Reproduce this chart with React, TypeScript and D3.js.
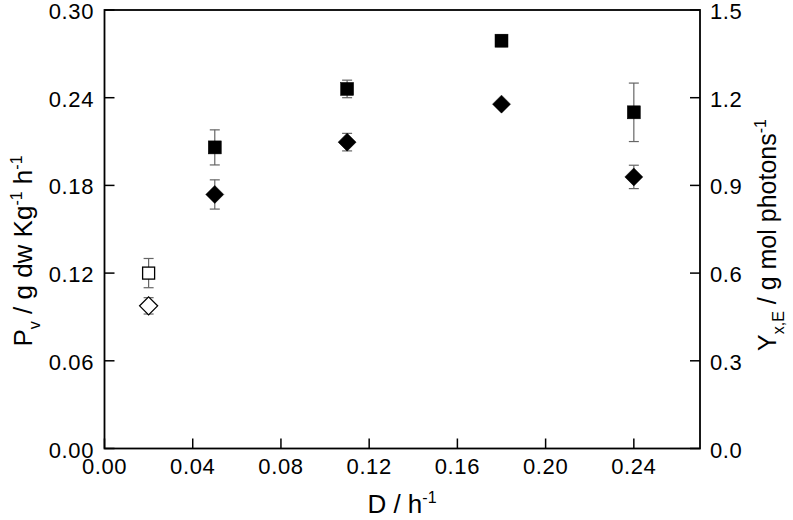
import React from "react";
import * as d3 from "d3";

const dilution = [0.02, 0.05, 0.11, 0.18, 0.24];
const openMarker = [true, false, false, false, false];
const pvValues = [0.12, 0.206, 0.246, 0.279, 0.23];
const pvErrors = [0.01, 0.012, 0.006, 0.004, 0.02];
const yieldValues = [0.488, 0.869, 1.048, 1.178, 0.929];
const yieldErrors = [0.028, 0.05, 0.03, 0.01, 0.04];
const xTicks = [0, 0.04, 0.08, 0.12, 0.16, 0.2, 0.24];
const leftTicks = [0, 0.06, 0.12, 0.18, 0.24, 0.3];
const rightTicks = [0, 0.3, 0.6, 0.9, 1.2, 1.5];

const W = 793;
const H = 520;
const L = 104.5;
const R = 700;
const T = 10;
const B = 448.5;

export default function App() {
  const x = d3.scaleLinear().domain([0, 0.27]).range([L, R]);
  const yL = d3.scaleLinear().domain([0, 0.3]).range([B, T]);
  const yR = d3.scaleLinear().domain([0, 1.5]).range([B, T]);
  const font = "Liberation Sans, Arial, sans-serif";
  const tickLen = 10;
  const cap = 5;
  const errColor = "#666";

  return (
    <svg width={W} height={H} style={{ position: "absolute", left: 0, top: 0 }} fontFamily={font}>
      <rect width={W} height={H} fill="#fff" />
      {xTicks.map((t) => (
        <g key={"x" + t}>
          <line x1={x(t)} x2={x(t)} y1={B} y2={B - tickLen} stroke="#000" strokeWidth={1.5} />
          <text x={x(t)} y={474} fontSize={22} textAnchor="middle" letterSpacing={0.6}>
            {d3.format(".2f")(t)}
          </text>
        </g>
      ))}
      {leftTicks.map((t) => (
        <g key={"l" + t}>
          <line x1={L} x2={L + tickLen} y1={yL(t)} y2={yL(t)} stroke="#000" strokeWidth={1.5} />
          <text x={94} y={yL(t) + 9} fontSize={22} textAnchor="end" letterSpacing={0.6}>
            {d3.format(".2f")(t)}
          </text>
        </g>
      ))}
      {rightTicks.map((t) => (
        <g key={"r" + t}>
          <line x1={R} x2={R - tickLen} y1={yR(t)} y2={yR(t)} stroke="#000" strokeWidth={1.5} />
          <text x={710} y={yR(t) + 9} fontSize={22} textAnchor="start" letterSpacing={0.6}>
            {d3.format(".1f")(t)}
          </text>
        </g>
      ))}
      <rect x={L} y={T} width={R - L} height={B - T} fill="none" stroke="#000" strokeWidth={1.8} />

      {dilution.map((d, i) => {
        const cx = x(d);
        const items = [
          [yL(pvValues[i] + pvErrors[i]), yL(pvValues[i] - pvErrors[i])],
          [yR(yieldValues[i] + yieldErrors[i]), yR(yieldValues[i] - yieldErrors[i])],
        ];
        return (
          <g key={"e" + i} stroke={errColor} strokeWidth={1.2}>
            {items.map(([a, b], j) => (
              <g key={j}>
                <line x1={cx} x2={cx} y1={a} y2={b} />
                <line x1={cx - cap} x2={cx + cap} y1={a} y2={a} />
                <line x1={cx - cap} x2={cx + cap} y1={b} y2={b} />
              </g>
            ))}
          </g>
        );
      })}

      {dilution.map((d, i) => {
        const s = openMarker[i] ? 12 : 13;
        return (
          <rect
            key={"s" + i}
            x={x(d) - s / 2}
            y={yL(pvValues[i]) - s / 2}
            width={s}
            height={s}
            fill={openMarker[i] ? "#fff" : "#000"}
            stroke="#000"
            strokeWidth={openMarker[i] ? 1.3 : 0.5}
          />
        );
      })}
      {dilution.map((d, i) => {
        const cx = x(d);
        const cy = yR(yieldValues[i]);
        const r = 9;
        return (
          <path
            key={"d" + i}
            d={`M${cx},${cy - r}L${cx + r},${cy}L${cx},${cy + r}L${cx - r},${cy}Z`}
            fill={openMarker[i] ? "#fff" : "#000"}
            stroke="#000"
            strokeWidth={openMarker[i] ? 1.3 : 0.5}
          />
        );
      })}

      <text x={402} y={513} fontSize={26} textAnchor="middle">
        D / h<tspan dy={-10} fontSize={16}>-1</tspan>
      </text>
      <text transform={`translate(32,251) rotate(-90)`} fontSize={26} textAnchor="middle">
        P<tspan dy={8} fontSize={16}>v</tspan>
        <tspan dy={-8}> / g dw Kg</tspan>
        <tspan dy={-10} fontSize={16}>-1</tspan>
        <tspan dy={10}> h</tspan>
        <tspan dy={-10} fontSize={16}>-1</tspan>
      </text>
      <text transform={`translate(776,235) rotate(-90)`} fontSize={25} textAnchor="middle">
        Y<tspan dy={8} fontSize={16}>x,E</tspan>
        <tspan dy={-8}> / g mol photons</tspan>
        <tspan dy={-10} fontSize={16}>-1</tspan>
      </text>
    </svg>
  );
}
